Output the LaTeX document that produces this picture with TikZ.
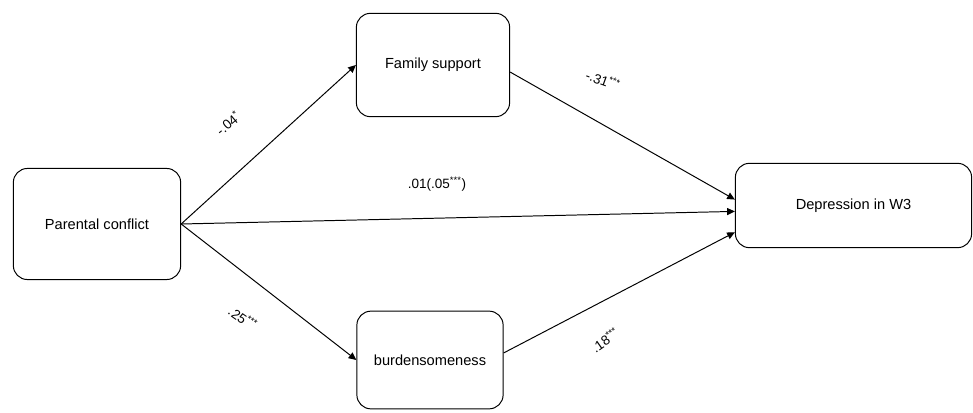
\documentclass[tikz,border=0pt]{standalone}
\usepackage{fontspec}
\setmainfont{Liberation Sans}
\usetikzlibrary{arrows.meta}

\tikzset{
  box/.style={draw, line width=0.7pt, rounded corners=10pt, align=center,
    font=\fontsize{10.4}{12.5}\selectfont},
  link/.style={-{Triangle[length=5.5pt,width=5pt]}, line width=0.7pt},
  coef/.style={font=\fontsize{9.6}{11}\selectfont, inner sep=0pt},
}

\begin{document}
\begin{tikzpicture}[x=0.025cm, y=-0.025cm]
  \useasboundingbox (0,0) rectangle (973,413);

  \node[box, minimum width=119pt, minimum height=79pt] (pc) at (97,224) {Parental conflict};
  \node[box, minimum width=109pt, minimum height=73.5pt] (fs) at (433,65) {Family support};
  \node[box, minimum width=104pt, minimum height=69.5pt] (bu) at (430,360) {burdensomeness};
  \node[box, minimum width=168pt, minimum height=60pt] (dep) at (853.5,205.5) {Depression in W3};

  \draw[link] (pc.east) -- (fs.west);
  \draw[link] (pc.east) -- (bu.west);
  \draw[link] (pc.east) -- ([yshift=-4.2pt]dep.west);
  \draw[link] ([yshift=-5pt]fs.east) -- ([yshift=4.2pt]dep.west);
  \draw[link] ([yshift=5pt]bu.east) -- ([yshift=-19pt]dep.west);

  \node[coef, rotate=40] (c1) at (228,123) {-.04\textsuperscript{*}};
  \node[coef, rotate=-20] (c2) at (603,80) {-.31\textsuperscript{***}};
  \node[coef] (c3) at (437,184) {.01(.05\textsuperscript{***})};
  \node[coef, rotate=-35] (c4) at (243,318) {.25\textsuperscript{***}};
  \node[coef, rotate=35] (c5) at (605,340) {.18\textsuperscript{***}};
\end{tikzpicture}
\end{document}
